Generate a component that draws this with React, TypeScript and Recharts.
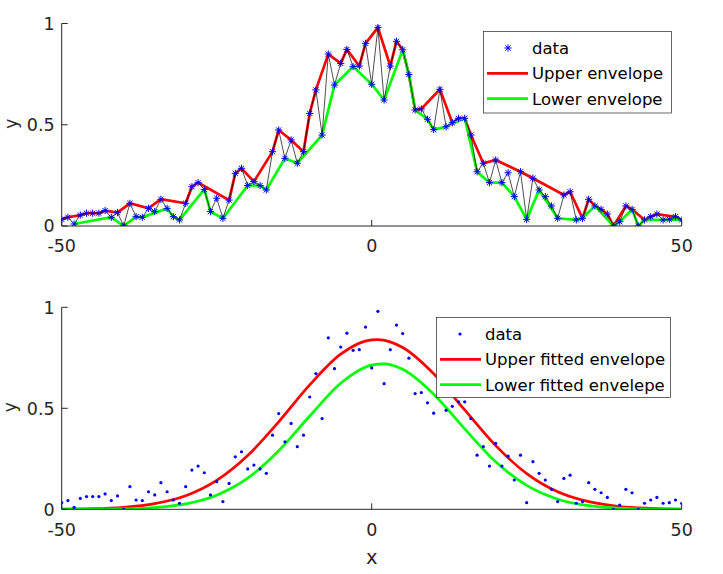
import React from 'react'
import { ComposedChart, Label, Legend, Line, Scatter, XAxis, YAxis } from 'recharts'

// sample positions and values
const xValues = [
  -50, -49, -48, -47, -46, -45, -44, -43, -42, -41, -40, -39, -38, -37, -36, -35, -34,
  -33, -32, -31, -30, -29, -28, -27, -26, -25, -24, -23, -22, -21, -20, -19, -18, -17,
  -16, -15, -14, -13, -12, -11, -10, -9, -8, -7, -6, -5, -4, -3, -2, -1, 0, 1, 2, 3, 4,
  5, 6, 7, 8, 9, 10, 11, 12, 13, 14, 15, 16, 17, 18, 19, 20, 21, 22, 23, 24, 25, 26, 27,
  28, 29, 30, 31, 32, 33, 34, 35, 36, 37, 38, 39, 40, 41, 42, 43, 44, 45, 46, 47, 48, 49, 50,
]

const yValues = [
  0.033, 0.043, 0.01, 0.054, 0.063, 0.063, 0.063, 0.076, 0.043, 0.066, 0.0, 0.112, 0.046,
  0.043, 0.087, 0.071, 0.132, 0.087, 0.046, 0.03, 0.112, 0.194, 0.214, 0.181, 0.071, 0.137,
  0.038, 0.128, 0.26, 0.285, 0.2, 0.219, 0.2, 0.178, 0.367, 0.474, 0.334, 0.425, 0.31, 0.367,
  0.556, 0.672, 0.449, 0.849, 0.696, 0.803, 0.872, 0.787, 0.79, 0.902, 0.7, 0.98, 0.622, 0.79,
  0.912, 0.87, 0.748, 0.573, 0.578, 0.527, 0.476, 0.675, 0.49, 0.51, 0.532, 0.532, 0.449,
  0.268, 0.31, 0.214, 0.326, 0.214, 0.263, 0.145, 0.268, 0.033, 0.236, 0.178, 0.145, 0.099,
  0.038, 0.153, 0.169, 0.03, 0.038, 0.132, 0.099, 0.082, 0.059, 0.0, 0.021, 0.099, 0.082, 0.0,
  0.03, 0.046, 0.059, 0.03, 0.033, 0.046, 0.03,
]

// x positions where the envelopes touch the data
const upperEnvelopeX = [
  -50, -49, -47, -46, -45, -44, -43, -41, -39, -36, -34, -30, -29, -28, -23, -22, -21, -19,
  -16, -15, -13, -11, -10, -9, -7, -5, -4, -2, -1, 1, 3, 4, 5, 6, 7, 8, 11, 13, 14, 15, 16,
  18, 20, 24, 26, 31, 32, 34, 35, 36, 37, 38, 39, 41, 42, 44, 46, 49, 50,
]
const lowerEnvelopeX = [
  -48, -42, -40, -38, -37, -33, -32, -31, -27, -26, -24, -20, -18, -17, -14, -12, -8, -6, -3,
  0, 2, 5, 6, 7, 9, 10, 12, 15, 17, 19, 21, 23, 25, 27, 30, 33, 34, 36, 39, 40, 42, 43, 44,
  47, 48, 50,
]

// fitted curves, sampled off the lower panel
const upperFitX = [-50, -45, -40, -35, -30, -25, -20, -15, -10, -5, 0, 1, 5, 10, 15, 20, 25, 30, 35, 40, 45, 50]
const upperFitY = [
  0.001, 0.003, 0.01, 0.028, 0.067, 0.143, 0.266, 0.433, 0.616, 0.768, 0.839, 0.84, 0.801,
  0.671, 0.492, 0.315, 0.177, 0.087, 0.038, 0.014, 0.005, 0.001,
]
const lowerFitX = [-50, -45, -40, -35, -30, -25, -20, -15, -10, -5, 0, 2, 5, 10, 15, 20, 25, 30, 35, 40, 45, 50]
const lowerFitY = [
  0, 0.001, 0.002, 0.009, 0.027, 0.07, 0.154, 0.29, 0.462, 0.624, 0.714, 0.72, 0.693, 0.57,
  0.398, 0.235, 0.118, 0.05, 0.018, 0.006, 0.001, 0,
]

const xTicks = [-50, 0, 50]
const yTicks = [0, 0.5, 1]

const dataPoints = xValues.map((x, i) => ({ x, y: yValues[i] }))
const pick = (x: number) => ({ x, y: yValues[xValues.indexOf(x)] })
const upperEnvelope = upperEnvelopeX.map(pick)
const lowerEnvelope = lowerEnvelopeX.map(pick)
const upperFit = upperFitX.map((x, i) => ({ x, y: upperFitY[i] }))
const lowerFit = lowerFitX.map((x, i) => ({ x, y: lowerFitY[i] }))

const FONT = 'DejaVu Sans'
const INK = '#262626'
const BLUE = '#0000ff'
const RED = '#ff0000'
const GREEN = '#00ff00'

const tickStyle = { fill: INK, fontSize: 17.5, fontFamily: FONT }

function Asterisk({ cx, cy }: { cx?: number; cy?: number }) {
  if (cx == null || cy == null) return null
  const r = 3.6
  const d = 2.6
  return (
    <g stroke={BLUE} strokeWidth={1}>
      <line x1={cx - r} y1={cy} x2={cx + r} y2={cy} />
      <line x1={cx} y1={cy - r} x2={cx} y2={cy + r} />
      <line x1={cx - d} y1={cy - d} x2={cx + d} y2={cy + d} />
      <line x1={cx - d} y1={cy + d} x2={cx + d} y2={cy - d} />
    </g>
  )
}

function Dot({ cx, cy }: { cx?: number; cy?: number }) {
  if (cx == null || cy == null) return null
  return <circle cx={cx} cy={cy} r={1.6} fill={BLUE} />
}

type LegendItem = { label: string; kind: 'star' | 'dot' | 'line'; color: string }

function LegendBox({ items, width, height }: { items: LegendItem[]; width: number; height: number }) {
  return (
    <svg width={width} height={height} style={{ display: 'block' }}>
      <rect x={0.5} y={0.5} width={width - 1} height={height - 1} fill="#fff" stroke={INK} strokeWidth={0.7} />
      {items.map((item, i) => {
        const cy = 17 + i * 25.3
        return (
          <g key={item.label}>
            {item.kind === 'line' && <line x1={4} x2={45} y1={cy} y2={cy} stroke={item.color} strokeWidth={2.7} />}
            {item.kind === 'star' && <Asterisk cx={25} cy={cy} />}
            {item.kind === 'dot' && <Dot cx={24} cy={cy} />}
            <text x={49} y={cy} dy="0.36em" fontSize={16.5} fontFamily={FONT} fill="#000">
              {item.label}
            </text>
          </g>
        )
      })}
    </svg>
  )
}

function YTitle(props: any) {
  const vb = props.viewBox || { x: 0, y: 23.5, width: 61.7, height: 202.5 }
  const cx = vb.x + 16.5
  const cy = vb.y + vb.height / 2 - 1
  return (
    <text x={cx} y={cy} transform={`rotate(-90 ${cx} ${cy})`} textAnchor="middle" fontSize={17} fontFamily={FONT} fill={INK}>
      y
    </text>
  )
}

function XTitle(props: any) {
  const vb = props.viewBox || { x: 61.7, y: 225.3, width: 620, height: 30 }
  return (
    <text x={vb.x + vb.width / 2} y={vb.y + 54.7} textAnchor="middle" fontSize={19.5} fontFamily={FONT} fill={INK}>
      x
    </text>
  )
}

const topLegend: LegendItem[] = [
  { label: 'data', kind: 'star', color: BLUE },
  { label: 'Upper envelope', kind: 'line', color: RED },
  { label: 'Lower envelope', kind: 'line', color: GREEN },
]
const bottomLegend: LegendItem[] = [
  { label: 'data', kind: 'dot', color: BLUE },
  { label: 'Upper fitted envelope', kind: 'line', color: RED },
  { label: 'Lower fitted envelepe', kind: 'line', color: GREEN },
]

export default function App() {
  return (
    <div style={{ position: 'absolute', left: 0, top: 0, width: 723, height: 574, background: '#fff' }}>
      <div style={{ position: 'absolute', left: 0, top: 0 }}>
        <ComposedChart width={723} height={270} margin={{ top: 23.5, right: 41.3, bottom: 14, left: 0 }}>
          <XAxis
            dataKey="x"
            type="number"
            domain={[-50, 50]}
            ticks={xTicks}
            interval={0}
            height={30}
            tickSize={-6}
            tickMargin={20}
            stroke={INK}
            tick={tickStyle}
            allowDataOverflow
          />
          <YAxis
            dataKey="y"
            type="number"
            domain={[0, 1]}
            ticks={yTicks}
            interval={0}
            width={61.7}
            tickSize={-6}
            tickMargin={13}
            stroke={INK}
            tick={tickStyle}
            allowDataOverflow
          >
            <Label content={YTitle} />
          </YAxis>
          <Line data={upperEnvelope} dataKey="y" stroke={RED} strokeWidth={2.7} dot={false} activeDot={false} isAnimationActive={false} />
          <Line data={lowerEnvelope} dataKey="y" stroke={GREEN} strokeWidth={2.7} dot={false} activeDot={false} isAnimationActive={false} />
          <Line data={dataPoints} dataKey="y" stroke="#000" strokeWidth={0.7} dot={false} activeDot={false} isAnimationActive={false} />
          <Scatter data={dataPoints} dataKey="y" shape={(p: any) => <Asterisk cx={p.cx} cy={p.cy} />} isAnimationActive={false} />
          <Legend
            layout="horizontal"
            verticalAlign="middle"
            align="center"
            wrapperStyle={{ left: 482.7, top: 31, width: 189, height: 82.5 }}
            content={() => <LegendBox items={topLegend} width={189} height={82.5} />}
          />
        </ComposedChart>
      </div>
      <div style={{ position: 'absolute', left: 0, top: 284 }}>
        <ComposedChart width={723} height={290} margin={{ top: 23.3, right: 41.3, bottom: 34.7, left: 0 }}>
          <XAxis
            dataKey="x"
            type="number"
            domain={[-50, 50]}
            ticks={xTicks}
            interval={0}
            height={30}
            tickSize={-6}
            tickMargin={20}
            stroke={INK}
            tick={tickStyle}
            allowDataOverflow
          >
            <Label content={XTitle} />
          </XAxis>
          <YAxis
            dataKey="y"
            type="number"
            domain={[0, 1]}
            ticks={yTicks}
            interval={0}
            width={61.7}
            tickSize={-6}
            tickMargin={13}
            stroke={INK}
            tick={tickStyle}
            allowDataOverflow
          >
            <Label content={YTitle} />
          </YAxis>
          <Scatter data={dataPoints} dataKey="y" shape={(p: any) => <Dot cx={p.cx} cy={p.cy} />} isAnimationActive={false} />
          <Line data={upperFit} dataKey="y" type="monotone" stroke={RED} strokeWidth={2.7} dot={false} activeDot={false} isAnimationActive={false} />
          <Line data={lowerFit} dataKey="y" type="monotone" stroke={GREEN} strokeWidth={2.7} dot={false} activeDot={false} isAnimationActive={false} />
          <Legend
            layout="horizontal"
            verticalAlign="middle"
            align="center"
            wrapperStyle={{ left: 436, top: 32.7, width: 235, height: 81 }}
            content={() => <LegendBox items={bottomLegend} width={235} height={81} />}
          />
        </ComposedChart>
      </div>
    </div>
  )
}
